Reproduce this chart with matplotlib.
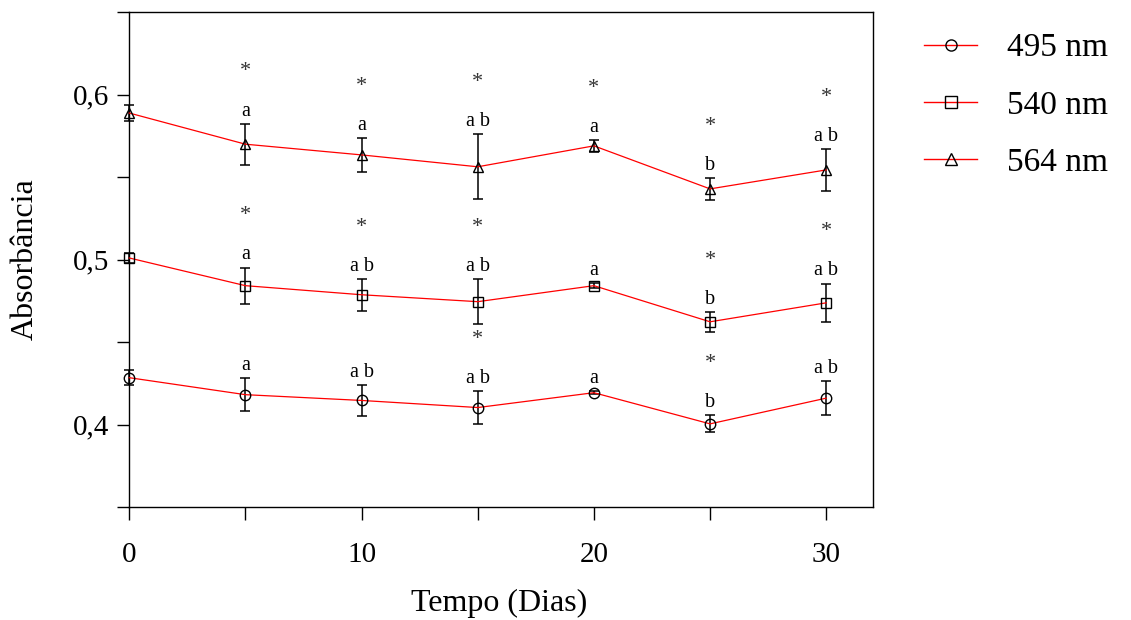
import matplotlib
matplotlib.use("Agg")
import matplotlib.pyplot as plt
from matplotlib.lines import Line2D
import numpy as np

plt.rcParams['font.family'] = ['Liberation Serif', 'DejaVu Serif']

days = [0, 5, 10, 15, 20, 25, 30]

abs_495 = [0.4284, 0.4181, 0.4146, 0.4103, 0.4193, 0.4004, 0.4160]
err_495 = [0.0045, 0.0099, 0.0096, 0.0099, 0.0010, 0.0052, 0.0104]
abs_540 = [0.5010, 0.4842, 0.4787, 0.4745, 0.4842, 0.4623, 0.4738]
err_540 = [0.0030, 0.0110, 0.0097, 0.0136, 0.0015, 0.0060, 0.0117]
abs_564 = [0.5889, 0.5700, 0.5635, 0.5563, 0.5690, 0.5429, 0.5544]
err_564 = [0.0050, 0.0125, 0.0103, 0.0196, 0.0037, 0.0067, 0.0128]

letters_495 = ["", "a", "a b", "a b", "a", "b", "a b"]
letters_540 = ["", "a", "a b", "a b", "a", "b", "a b"]
letters_564 = ["", "a", "a", "a b", "a", "b", "a b"]
stars_495 = [False, False, False, True, False, True, False]
stars_540 = [False, True, True, True, False, True, True]
stars_564 = [False, True, True, True, True, True, True]

series_labels = ["495 nm", "540 nm", "564 nm"]
markers = ["o", "s", "^"]

x_ticks = [0, 5, 10, 15, 20, 25, 30]
x_ticklabels = ["0", "", "10", "", "20", "", "30"]
y_ticks = [0.35, 0.40, 0.45, 0.50, 0.55, 0.60, 0.65]
y_ticklabels = ["", "0,4", "", "0,5", "", "0,6", ""]

fig = plt.figure(figsize=(11.31, 6.20), dpi=100)
ax = fig.add_axes([0.1143, 0.1823, 0.6573, 0.7979])

all_y = [abs_495, abs_540, abs_564]
all_e = [err_495, err_540, err_564]
all_l = [letters_495, letters_540, letters_564]
all_s = [stars_495, stars_540, stars_564]

handles = []
for yv, ev, lv, sv, mk, lab in zip(all_y, all_e, all_l, all_s, markers, series_labels):
    eb = ax.errorbar(days, yv, yerr=ev, fmt='none', ecolor='black', elinewidth=1.1,
                     capsize=3.5, capthick=1.1, zorder=2)
    for art in eb.lines[1] + eb.lines[2]:
        art.set_clip_on(False)
    ax.plot(days, yv, color='red', lw=0.9, marker=mk, mfc='none', mec='black',
            ms=7.5 if mk != 's' else 7, mew=1.0, zorder=3, clip_on=False)
    handles.append(Line2D([], [], color='red', lw=1.0, marker=mk, mfc='none',
                          mec='black', ms=8, mew=1.0))
    for xd, yd, ed, let, st in zip(days, yv, ev, lv, sv):
        top = yd + ed
        if let:
            ax.annotate(let, (xd, top), xytext=(0, 5.8), textcoords='offset points',
                        ha='center', va='baseline', fontsize=14.5)
        if st:
            ax.annotate("*", (xd, top), xytext=(0, 34), textcoords='offset points',
                        ha='center', va='baseline', fontsize=16, color='#333333')

ax.set_xlim(0, 32)
ax.set_ylim(0.35, 0.65)
ax.set_xticks(x_ticks)
ax.set_xticklabels(x_ticklabels)
ax.set_yticks(y_ticks)
ax.set_yticklabels(y_ticklabels)
ax.tick_params(axis='both', direction='out', length=9, width=1.0, labelsize=21)
ax.tick_params(axis='x', pad=16)
ax.tick_params(axis='y', pad=5.5)
for sp in ax.spines.values():
    sp.set_linewidth(1.0)
    sp.set_color('black')

ax.set_xlabel("Tempo (Dias)", fontsize=23, va='center')
ax.xaxis.set_label_coords(0.497, -0.196)
ax.set_ylabel("Absorbância", fontsize=23, va='center')
ax.yaxis.set_label_coords(-0.1403, 0.5)

ax.legend(handles, series_labels, loc='center left', bbox_to_anchor=(0.817, 0.830),
          bbox_transform=fig.transFigure, frameon=False, fontsize=24,
          handlelength=1.6, handletextpad=0.9, labelspacing=0.8,
          borderpad=0, borderaxespad=0)

fig.savefig("out.png", dpi=100)
